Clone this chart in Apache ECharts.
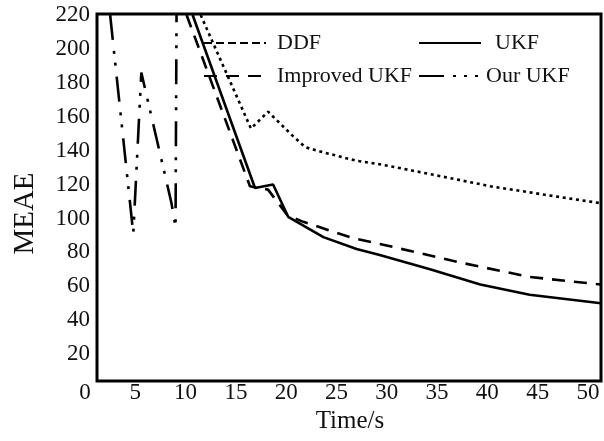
<!DOCTYPE html>
<html>
<head>
<meta charset="utf-8">
<script src="https://cdn.jsdelivr.net/npm/echarts@6.0.0/dist/echarts.min.js"></script>
<style>
html, body { margin: 0; padding: 0; background: #fff; }
#main { width: 604px; height: 441px; }
</style>
</head>
<body>
<div id="main"></div>
<script>
// values (time in s, MEAE)
var ddfTime = [11.5, 16.5, 18.2, 20.6, 21.9, 23.7, 27.0, 29.3, 33.6, 40.3, 45.7, 51.3];
var ddfValue = [220, 153, 163, 149, 142, 139, 134, 132, 127, 119, 114, 109];

var ukfTime = [10.7, 16.9, 18.7, 20.2, 23.7, 27.0, 29.3, 34.3, 39.3, 44.2, 51.3];
var ukfValue = [220, 118, 120, 101, 89, 82, 78.5, 70, 61, 55, 50];

var improvedTime = [10.1, 16.4, 18.2, 20.1, 21.7, 26.6, 29.3, 37.3, 44.2, 51.3];
var improvedValue = [220, 119, 117, 102, 98, 88.5, 85, 74, 65.5, 61];

var ourTime = [2.5, 4.8, 5.6, 8.6, 9.0, 9.1];
var ourValue = [220, 91, 186, 109, 95, 220];

var font = 'Liberation Serif';

function pairs(xs, ys) {
	var out = [];
	xs.forEach(function (x, i) {
		out.push([x, ys[i]]);
	});
	return out;
}

function lineSeries(name, xs, ys, type) {
	return {
		name: name,
		type: 'line',
		xAxisIndex: 1,
		yAxisIndex: 1,
		data: pairs(xs, ys),
		symbol: 'none',
		clip: false,
		color: '#000',
		lineStyle: {
			color: '#000',
			width: 2.6,
			type: type,
			cap: 'butt'
		}
	};
}

var legendText = {
	fontFamily: font,
	fontSize: 22,
	color: '#111'
};

// legend samples are lines only, no marker
var legendItemStyle = {
	color: 'transparent',
	borderColor: 'transparent',
	borderWidth: 0,
	opacity: 0
};

var option = {
	animation: false,
	backgroundColor: '#fff',
	grid: [
		// the box
		{ left: 97, right: 3, top: 14, bottom: 60, show: true, borderColor: '#000', borderWidth: 3, backgroundColor: 'transparent' },
		// data area (ticks are offset from the box in the original)
		{ left: 85, right: 3, top: 15, bottom: 53 }
	],
	legend: [
		{
			orient: 'vertical',
			left: 198,
			top: 27,
			itemWidth: 62,
			itemHeight: 14,
			itemGap: 11,
			itemStyle: legendItemStyle,
			textStyle: legendText,
			data: [
				{ name: 'DDF', lineStyle: { type: [8, 4] }, textStyle: { padding: [0, 0, 0, 6] } },
				{ name: 'Improved UKF', textStyle: { padding: [0, 0, 0, 6] } }
			]
		},
		{
			orient: 'vertical',
			left: 413,
			top: 27,
			itemWidth: 62,
			itemHeight: 14,
			itemGap: 11,
			itemStyle: legendItemStyle,
			textStyle: legendText,
			data: [
				{ name: 'UKF', textStyle: { padding: [0, 0, 0, 9] } },
				{ name: 'Our UKF', lineStyle: { type: [25, 9, 3, 8, 3, 8, 3, 20] }, textStyle: { padding: [0, 0, 0, 0] } }
			]
		}
	],
	xAxis: [
		{ gridIndex: 0, type: 'value', show: false, min: 0, max: 1 },
		{
			gridIndex: 1,
			type: 'value',
			min: 0,
			max: 51.3,
			interval: 5,
			offset: -7,
			axisLine: { show: false },
			axisTick: { show: false },
			splitLine: { show: false },
			axisLabel: {
				fontFamily: font,
				fontSize: 23,
				color: '#111',
				margin: 0,
				showMaxLabel: false
			},
			name: 'Time/s',
			nameLocation: 'middle',
			nameGap: 22,
			nameTextStyle: {
				fontFamily: font,
				fontSize: 25,
				color: '#111',
				padding: [0, 0, 0, 14]
			}
		}
	],
	yAxis: [
		{ gridIndex: 0, type: 'value', show: false, min: 0, max: 1 },
		{
			gridIndex: 1,
			type: 'value',
			min: 0,
			max: 220,
			interval: 20,
			offset: -12,
			axisLine: { show: false },
			axisTick: { show: false },
			splitLine: { show: false },
			axisLabel: {
				fontFamily: font,
				fontSize: 23,
				color: '#111',
				margin: 7,
				showMinLabel: false
			},
			name: 'MEAE',
			nameLocation: 'middle',
			nameGap: 57,
			nameTextStyle: {
				fontFamily: font,
				fontSize: 29,
				color: '#111',
				padding: [0, 24, 0, 0]
			}
		}
	],
	series: [
		lineSeries('DDF', ddfTime, ddfValue, [3, 3.7]),
		lineSeries('UKF', ukfTime, ukfValue, 'solid'),
		lineSeries('Improved UKF', improvedTime, improvedValue, [13, 9]),
		lineSeries('Our UKF', ourTime, ourValue, [25, 11, 3, 9, 3, 11])
	]
};

var myChart = echarts.init(document.getElementById('main'), null, { renderer: 'canvas' });
myChart.setOption(option);
</script>
</body>
</html>
